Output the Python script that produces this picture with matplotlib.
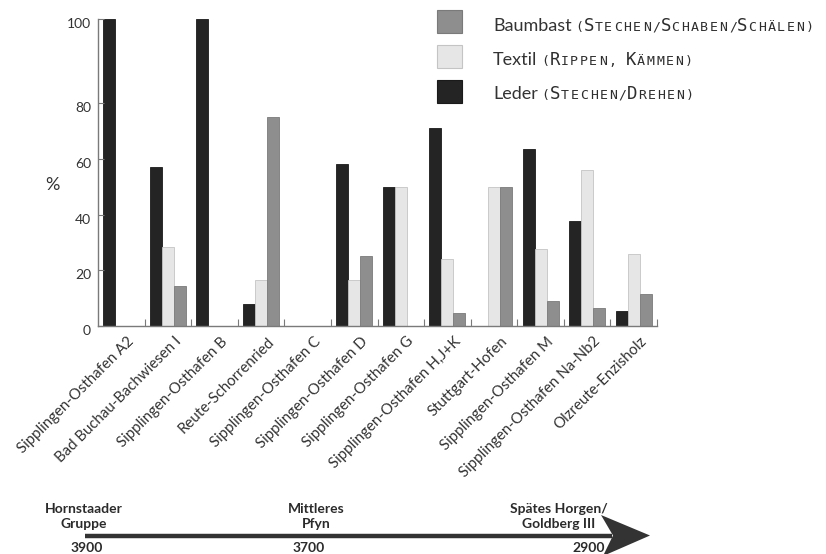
import matplotlib
matplotlib.use("Agg")
import numpy as np
import matplotlib.pyplot as plt
import matplotlib.transforms as mtransforms
from matplotlib import font_manager
from matplotlib.patches import Rectangle, Polygon

# ---- data -----------------------------------------------------------------
sites = [
    "Sipplingen-Osthafen A2", "Bad Buchau-Bachwiesen I", "Sipplingen-Osthafen B",
    "Reute-Schorrenried", "Sipplingen-Osthafen C", "Sipplingen-Osthafen D",
    "Sipplingen-Osthafen G", "Sipplingen-Osthafen H,J+K", "Stuttgart-Hofen",
    "Sipplingen-Osthafen M", "Sipplingen-Osthafen Na-Nb2", "Olzreute-Enzisholz",
]
leder = [100, 57, 100, 8, 0, 58, 50, 71, 0, 63.5, 37.5, 5.5]
textil = [0, 28.5, 0, 16.5, 0, 16.5, 50, 24, 50, 27.5, 56, 26]
baumbast = [0, 14.5, 0, 75, 0, 25, 0, 4.5, 50, 9, 6.5, 11.5]
yticks = [0, 20, 40, 60, 80, 100]

legend_names = ["Baumbast", "Textil", "Leder"]
legend_notes = ["(Stechen/Schaben/Schälen)", "(Rippen, Kämmen)", "(Stechen/Drehen)"]

periods = [["Hornstaader", "Gruppe"], ["Mittleres", "Pfyn"],
           ["Spätes Horgen/", "Goldberg III"]]
years = ["3900", "3700", "2900"]

# ---- style ----------------------------------------------------------------
def pick(*names):
    for n in names:
        try:
            font_manager.findfont(font_manager.FontProperties(family=n),
                                  fallback_to_default=False)
            return n
        except Exception:
            continue
    return "DejaVu Sans"

SANS = pick("Lato", "Open Sans", "DejaVu Sans")
MONO = pick("DejaVu Sans Mono", "Liberation Mono")
plt.rcParams["font.family"] = [SANS, "DejaVu Sans"]

C_LEDER, E_LEDER = "#242424", "#1a1a1a"
C_TEXTIL, E_TEXTIL = "#e6e6e6", "#c4c4c4"
C_BAUM, E_BAUM = "#8e8e8e", "#7a7a7a"
TXT = "#333333"
AXC = "#7a7a7a"

W, H = 826, 554
fig = plt.figure(figsize=(W / 100, H / 100), dpi=100)

# y axis is linear up to 80 and stretched above it
K = 84.0 / 55.75
def fwd(y):
    y = np.asarray(y, dtype=float)
    return np.where(y <= 80, y, 80 + (y - 80) * K)

def inv(t):
    t = np.asarray(t, dtype=float)
    return np.where(t <= 80, t, 80 + (t - 80) / K)

ax = fig.add_axes([98 / W, 1 - 326 / H, (657 - 98) / W, (326 - 19) / H])
ax.set_yscale("function", functions=(fwd, inv))

x = np.arange(len(sites))
bw = 0.2575
ax.bar(x - bw, leder, bw, color=C_LEDER, edgecolor=E_LEDER, linewidth=0.6, zorder=1)
ax.bar(x, textil, bw, color=C_TEXTIL, edgecolor=E_TEXTIL, linewidth=0.6, zorder=1)
ax.bar(x + bw, baumbast, bw, color=C_BAUM, edgecolor=E_BAUM, linewidth=0.6, zorder=1)

ax.set_xlim(-0.5, len(sites) - 0.5)
ax.set_ylim(0, 100)

for s in ("top", "right"):
    ax.spines[s].set_visible(False)
for s in ("left", "bottom"):
    ax.spines[s].set_color(AXC)
    ax.spines[s].set_linewidth(1.0)
    ax.spines[s].set_zorder(3)

ax.set_yticks(yticks)
ax.set_yticklabels([str(v) for v in yticks])
ax.yaxis.set_minor_locator(matplotlib.ticker.NullLocator())
ax.tick_params(axis="y", direction="in", length=4, width=0.8, color=AXC,
               labelsize=10, labelcolor=TXT, pad=5)
shift = mtransforms.ScaledTranslation(0, -4 / 100, fig.dpi_scale_trans)
for lab in ax.get_yticklabels():
    lab.set_transform(lab.get_transform() + shift)

ax.set_xticks(x)
ax.set_xticklabels(sites, rotation=45, ha="right", rotation_mode="anchor")
ax.set_xticks(np.arange(0.5, len(sites)), minor=True)
ax.tick_params(axis="x", which="major", length=0, labelsize=10.8,
               labelcolor=TXT, pad=6)
ax.tick_params(axis="x", which="minor", direction="in", length=5,
               width=0.8, color=AXC)
xshift = mtransforms.ScaledTranslation(6 / 100, 0, fig.dpi_scale_trans)
for lab in ax.get_xticklabels():
    lab.set_transform(lab.get_transform() + xshift)

fig.text(52 / W, 1 - 185 / H, "%", fontsize=13, color=TXT,
         ha="center", va="center")

# ---- legend ---------------------------------------------------------------
renderer = fig.canvas.get_renderer()
sw_fc = [C_BAUM, C_TEXTIL, C_LEDER]
sw_ec = [E_BAUM, E_TEXTIL, E_LEDER]
sw_top = [10, 45, 80]
base = [31, 65, 99]
pitch = 9.6
for i in range(3):
    fig.patches.append(Rectangle((437 / W, 1 - (sw_top[i] + 23) / H), 25 / W, 23 / H,
                                 transform=fig.transFigure, facecolor=sw_fc[i],
                                 edgecolor=sw_ec[i], linewidth=0.8))
    t = fig.text(493 / W, 1 - base[i] / H, legend_names[i], fontsize=13,
                 color=TXT, ha="left", va="baseline")
    bb = t.get_window_extent(renderer)
    x0 = bb.x1 + 3
    for j, ch in enumerate(legend_notes[i]):
        big = ch.isupper()
        fig.text((x0 + (j + 0.5) * pitch) / W, 1 - base[i] / H, ch.upper(),
                 fontsize=12.5 if big else 9.5, family=MONO,
                 color="#2e2e2e", ha="center", va="baseline")

# ---- time line ------------------------------------------------------------
ov = fig.add_axes([0, 0, 1, 1], zorder=-1)
ov.set_xlim(0, W)
ov.set_ylim(H, 0)
ov.axis("off")
ov.plot([85, 612], [535.5, 535.5], color="#333333", lw=3.2,
        solid_capstyle="butt")
ov.add_patch(Polygon([(601, 515), (650, 535.5), (603, 556), (613, 535.5)],
                     closed=True, facecolor="#333333", edgecolor="none"))
p_x = [84, 316, 559]
y_x = [87, 309, 589]
for px, yx, per, yr in zip(p_x, y_x, periods, years):
    for k, line in enumerate(per):
        ov.text(px, 513 + 15 * k, line, ha="center", va="baseline",
                weight="bold", fontsize=10, color="#2b2b2b")
    ov.text(yx, 551.5, yr, ha="center", va="baseline",
            weight="bold", fontsize=10, color="#2b2b2b")

fig.savefig("out.png", dpi=100)
